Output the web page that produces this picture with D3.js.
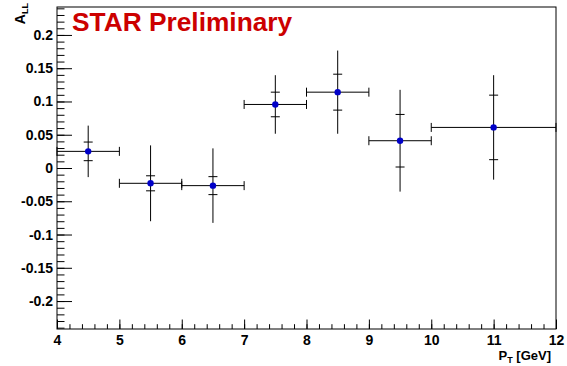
<!DOCTYPE html>
<html>
<head>
<meta charset="utf-8">
<script src="https://cdn.jsdelivr.net/npm/d3@7"></script>
<style>
  body { margin: 0; background: #fff; }
  svg { display: block; }
  svg text { font-family: "Liberation Sans", Arial, sans-serif; font-weight: bold; }
</style>
</head>
<body>
<div id="chart"></div>
<script>
// Layout
const width = 567;
const height = 366;
const frame = { left: 57, right: 556, top: 7, bottom: 329 };

// Data
const ptLow = [4, 5, 6, 7, 8, 9, 10];
const ptHigh = [5, 6, 7, 8, 9, 10, 12];
const ptCenter = [4.5, 5.5, 6.5, 7.5, 8.5, 9.5, 11];
const aLL = [0.025, -0.023, -0.0265, 0.0955, 0.114, 0.041, 0.061];
const statErr = [0.0387, 0.057, 0.056, 0.044, 0.0625, 0.0765, 0.0785];   // long bars, no caps
const sysErr = [0.014, 0.0113, 0.0135, 0.0185, 0.027, 0.0395, 0.0485];   // short bars with caps

const xTicks = [4, 5, 6, 7, 8, 9, 10, 11, 12];
const xMinor = d3.range(20, 61).map(i => i / 5);
const yTicks = [-0.2, -0.15, -0.1, -0.05, 0, 0.05, 0.1, 0.15, 0.2];
const yMinor = d3.range(-24, 25).map(i => i / 100);

const points = ptCenter.map((x, i) => ({
  x, lo: ptLow[i], hi: ptHigh[i], y: aLL[i], stat: statErr[i], sys: sysErr[i]
}));

// Scales
const x = d3.scaleLinear().domain([4, 12]).range([frame.left, frame.right]);
const y = d3.scaleLinear().domain([-0.242, 0.242]).range([frame.bottom, frame.top]);

const svg = d3.select("#chart").append("svg")
  .attr("width", width)
  .attr("height", height);

// Frame
svg.append("rect")
  .attr("x", frame.left).attr("y", frame.top)
  .attr("width", frame.right - frame.left)
  .attr("height", frame.bottom - frame.top)
  .attr("fill", "none").attr("stroke", "#000").attr("stroke-width", 1);

const styleLabels = g => g.selectAll("text")
  .attr("font-size", 14).attr("fill", "#000")
  .style("font-weight", "bold")
  .style("font-family", "'Liberation Sans', Arial, sans-serif");

// Y axis: minor then major ticks pointing into the frame
svg.append("g")
  .attr("transform", `translate(${frame.left},0)`)
  .call(d3.axisLeft(y).tickValues(yMinor).tickSize(-7.5).tickFormat(""))
  .call(g => g.select(".domain").remove());

svg.append("g")
  .attr("transform", `translate(${frame.left},0)`)
  .call(d3.axisLeft(y).tickValues(yTicks).tickSize(-15).tickPadding(4)
    .tickFormat(d => String(+d.toFixed(2))))
  .call(g => g.select(".domain").remove())
  .call(styleLabels);

// X axis
svg.append("g")
  .attr("transform", `translate(0,${frame.bottom})`)
  .call(d3.axisBottom(x).tickValues(xMinor).tickSize(-4.8).tickFormat(""))
  .call(g => g.select(".domain").remove());

svg.append("g")
  .attr("transform", `translate(0,${frame.bottom})`)
  .call(d3.axisBottom(x).tickValues(xTicks).tickSize(-9.5).tickPadding(6))
  .call(g => g.select(".domain").remove())
  .call(styleLabels);

// Axis titles
const xTitle = svg.append("text")
  .attr("x", 551).attr("y", 360)
  .attr("text-anchor", "end")
  .attr("font-size", 13);
xTitle.append("tspan").text("P");
xTitle.append("tspan").attr("font-size", 9).attr("dy", 3).text("T");
xTitle.append("tspan").attr("dy", -3).text(" [GeV]");

const yTitle = svg.append("text")
  .attr("transform", "translate(25,3) rotate(-90)")
  .attr("text-anchor", "end")
  .attr("font-size", 14);
yTitle.append("tspan").text("A");
yTitle.append("tspan").attr("font-size", 9).attr("dy", 3).text("LL");

// STAR Preliminary
svg.append("text")
  .attr("x", 72).attr("y", 31)
  .attr("font-size", 26.3)
  .attr("fill", "#cc0000")
  .text("STAR Preliminary");

// Error bars
const bars = svg.append("g").attr("stroke", "#000").attr("stroke-width", 1).attr("fill", "none");

bars.selectAll(".stat").data(points).join("line")
  .attr("class", "stat")
  .attr("x1", d => x(d.x)).attr("x2", d => x(d.x))
  .attr("y1", d => y(d.y + d.stat)).attr("y2", d => y(d.y - d.stat));

bars.selectAll(".hbar").data(points).join("line")
  .attr("class", "hbar")
  .attr("x1", d => x(d.lo)).attr("x2", d => x(d.hi))
  .attr("y1", d => y(d.y)).attr("y2", d => y(d.y));

bars.selectAll(".hcap").data(points.flatMap(d => [[d.lo, d.y], [d.hi, d.y]])).join("line")
  .attr("class", "hcap")
  .attr("x1", d => x(d[0])).attr("x2", d => x(d[0]))
  .attr("y1", d => y(d[1]) - 4.5).attr("y2", d => y(d[1]) + 4.5);

bars.selectAll(".scap").data(points.flatMap(d => [d.y + d.sys, d.y - d.sys].map(v => [d.x, v]))).join("line")
  .attr("class", "scap")
  .attr("x1", d => x(d[0]) - 4.5).attr("x2", d => x(d[0]) + 4.5)
  .attr("y1", d => y(d[1])).attr("y2", d => y(d[1]));

// Markers
svg.append("g").selectAll("circle").data(points).join("circle")
  .attr("cx", d => x(d.x)).attr("cy", d => y(d.y))
  .attr("r", 3.2)
  .attr("fill", "#0000c8");
</script>
</body>
</html>
